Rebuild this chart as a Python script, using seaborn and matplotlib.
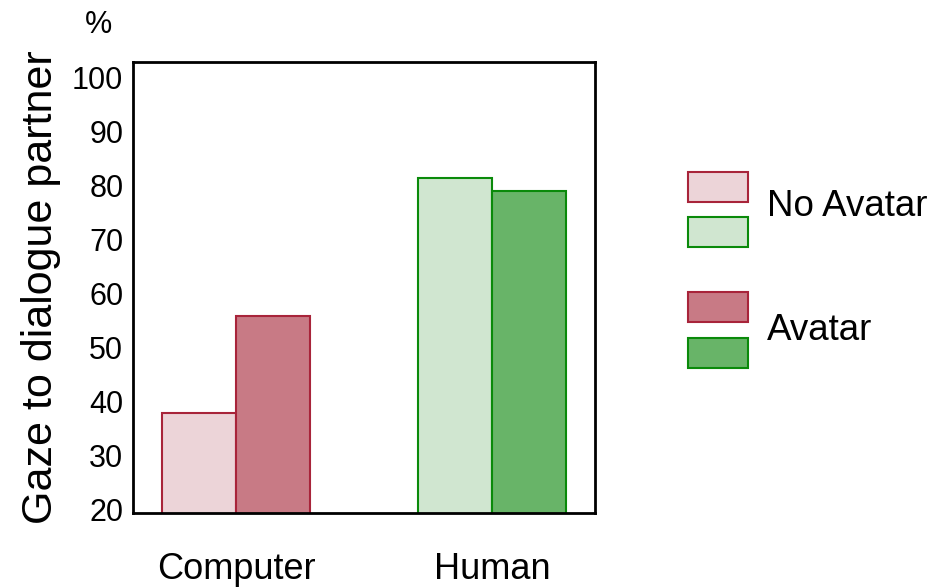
import pandas as pd
import seaborn as sns
import matplotlib.pyplot as plt

# values
partners = ["Computer", "Human"]
conditions = ["No Avatar", "Avatar"]
no_avatar = [37.9, 81.3]
avatar = [55.8, 79.0]
yticks = [20, 30, 40, 50, 60, 70, 80, 90, 100]

fills = {("Computer", "No Avatar"): "#ecd4d8", ("Computer", "Avatar"): "#c87a85",
         ("Human", "No Avatar"): "#d0e6d0", ("Human", "Avatar"): "#68b468"}
edges = {"Computer": "#a8243a", "Human": "#0a8a0a"}

data = pd.DataFrame({
    "Partner": partners * 2,
    "Condition": [conditions[0]] * 2 + [conditions[1]] * 2,
    "Gaze": no_avatar + avatar,
})

sns.set_style("white")
plt.rcParams["font.family"] = ["Liberation Sans", "DejaVu Sans"]
plt.rcParams["text.color"] = "black"
plt.rcParams["axes.labelcolor"] = "black"
plt.rcParams["xtick.color"] = "black"
plt.rcParams["ytick.color"] = "black"

fig = plt.figure(figsize=(9.46, 5.87), dpi=100)
ax = fig.add_axes([133 / 946, 1 - 513 / 587, (595 - 133) / 946, (513 - 62) / 587])

sns.barplot(data=data, x="Partner", y="Gaze", hue="Condition", hue_order=conditions,
            order=partners, width=0.578, gap=0, legend=False, ax=ax)

# recolour each bar by partner and condition
for cond, container in zip(conditions, ax.containers):
    for partner, bar in zip(partners, container):
        bar.set_facecolor(fills[(partner, cond)])
        bar.set_edgecolor(edges[partner])
        bar.set_linewidth(1.5)

ax.set_xlim(-0.402, 1.402)
ax.set_ylim(19.4, 102.8)
ax.set_yticks(yticks)
ax.tick_params(axis="y", labelsize=22, length=0, pad=7)
ax.tick_params(axis="x", labelsize=26, length=0, pad=28)
ax.set_xlabel("")
ax.set_ylabel("Gaze to dialogue partner", fontsize=31, labelpad=8)
for s in ax.spines.values():
    s.set_linewidth(2)
    s.set_color("black")

fig.text(98 / 946, 1 - 25 / 587, "%", fontsize=22, ha="center", va="center")

# legend: two swatches per condition, placed at the right of the axes
swatches = [("Computer", "No Avatar", 172), ("Human", "No Avatar", 217),
            ("Computer", "Avatar", 292), ("Human", "Avatar", 338)]
for partner, cond, y0 in swatches:
    r = plt.Rectangle((688 / 946, 1 - (y0 + 30) / 587), 60 / 946, 30 / 587,
                      transform=fig.transFigure, facecolor=fills[(partner, cond)],
                      edgecolor=edges[partner], linewidth=1.5)
    fig.patches.append(r)
fig.text(767 / 946, 1 - 207 / 587, conditions[0], fontsize=26.5, va="center")
fig.text(767 / 946, 1 - 331 / 587, conditions[1], fontsize=26.5, va="center")

fig.savefig("out.png", dpi=100)
